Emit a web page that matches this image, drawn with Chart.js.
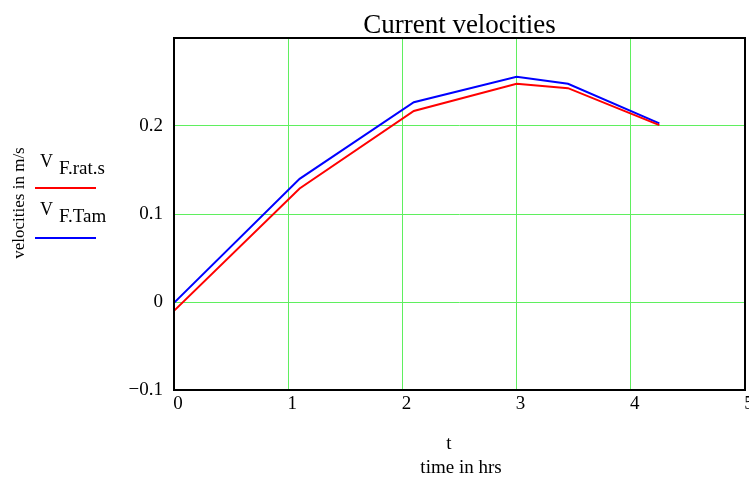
<!DOCTYPE html>
<html>
<head>
<meta charset="utf-8">
<script src="https://cdn.jsdelivr.net/npm/chart.js@4.4.1/dist/chart.umd.min.js"></script>
<style>
    body { margin: 0; background: #fff; overflow: hidden; }
    #wrap { width: 749px; height: 477px; overflow: hidden; }
</style>
</head>
<body>
<div id="wrap"><canvas id="velChart" width="760" height="477"></canvas></div>
<script>
// time in hrs and the two current velocity series (m/s)
const timeHrs = [0, 1.1, 2.1, 3.0, 3.45, 4.25];
const vRatS = [-0.010, 0.129, 0.217, 0.248, 0.243, 0.201];
const vTam = [-0.001, 0.140, 0.227, 0.256, 0.248, 0.203];

const xTicks = [0, 1, 2, 3, 4, 5];
const yTicks = [-0.1, 0, 0.1, 0.2];

const serif = "'Liberation Serif', 'DejaVu Serif', serif";

const toPoints = function (xs, ys) {
    return xs.map(function (x, i) { return { x: x, y: ys[i] }; });
};

// titles, frame and the little legend on the left
const decorations = {
    id: "decorations",
    afterDraw(chart) {
        const ctx = chart.ctx;
        const area = chart.chartArea;
        ctx.save();

        // frame
        ctx.strokeStyle = "#000";
        ctx.lineWidth = 2;
        ctx.strokeRect(area.left, area.top, area.right - area.left, area.bottom - area.top);

        ctx.fillStyle = "#000";
        ctx.textBaseline = "alphabetic";

        // title
        ctx.font = "27px " + serif;
        ctx.textAlign = "center";
        ctx.fillText("Current velocities", (area.left + area.right) / 2, 33);

        // x axis title
        ctx.font = "19px " + serif;
        ctx.fillText("t", 449, 449);
        ctx.fillText("time in hrs", 461, 473);

        // y axis title
        ctx.save();
        ctx.font = "17px " + serif;
        ctx.translate(24, 203);
        ctx.rotate(-Math.PI / 2);
        ctx.fillText("velocities in m/s", 0, 0);
        ctx.restore();

        // legend
        ctx.textAlign = "left";
        const items = [
            { sub: "F.rat.s", color: "#ff0000", y: 167, line: 188 },
            { sub: "F.Tam", color: "#0000ff", y: 215, line: 238 }
        ];
        items.forEach(function (it) {
            ctx.fillStyle = "#000";
            ctx.font = "18px " + serif;
            ctx.fillText("V", 40, it.y);
            ctx.font = "19px " + serif;
            ctx.fillText(it.sub, 59, it.y + 7);
            ctx.strokeStyle = it.color;
            ctx.lineWidth = 2;
            ctx.beginPath();
            ctx.moveTo(35, it.line);
            ctx.lineTo(96, it.line);
            ctx.stroke();
        });

        ctx.restore();
    }
};

const ctx = document.getElementById("velChart").getContext("2d");

new Chart(ctx, {
    type: "scatter",
    data: {
        datasets: [
            {
                label: "V F.rat.s",
                data: toPoints(timeHrs, vRatS),
                showLine: true,
                borderColor: "#ff0000",
                borderWidth: 2,
                pointRadius: 0,
                tension: 0
            },
            {
                label: "V F.Tam",
                data: toPoints(timeHrs, vTam),
                showLine: true,
                borderColor: "#0000ff",
                borderWidth: 2,
                pointRadius: 0,
                tension: 0
            }
        ]
    },
    options: {
        responsive: false,
        animation: false,
        layout: { padding: { left: 0, top: 38, right: 15, bottom: 0 } },
        plugins: {
            legend: { display: false },
            title: { display: false },
            tooltip: { enabled: false }
        },
        scales: {
            x: {
                type: "linear",
                min: 0,
                max: 5,
                afterFit(scale) { scale.height = 87; },
                afterBuildTicks(scale) {
                    scale.ticks = xTicks.map(function (v) { return { value: v }; });
                },
                grid: { color: "#5fef5f", lineWidth: 1, drawTicks: false },
                border: { display: false },
                ticks: {
                    color: "#000",
                    padding: 3,
                    labelOffset: 4,
                    maxRotation: 0,
                    font: { family: serif, size: 19 },
                    callback: function (v) { return String(v); }
                }
            },
            y: {
                min: -0.1,
                max: 0.3,
                afterFit(scale) { scale.width = 174; },
                afterBuildTicks(scale) {
                    scale.ticks = yTicks.map(function (v) { return { value: v }; });
                },
                grid: { color: "#5fef5f", lineWidth: 1, drawTicks: false },
                border: { display: false },
                ticks: {
                    color: "#000",
                    padding: 11,
                    font: { family: serif, size: 19 },
                    callback: function (v) {
                        if (Math.abs(v) < 1e-9) return "0";
                        return v.toFixed(1).replace("-", "\u2212");
                    }
                }
            }
        }
    },
    plugins: [decorations]
});
</script>
</body>
</html>
